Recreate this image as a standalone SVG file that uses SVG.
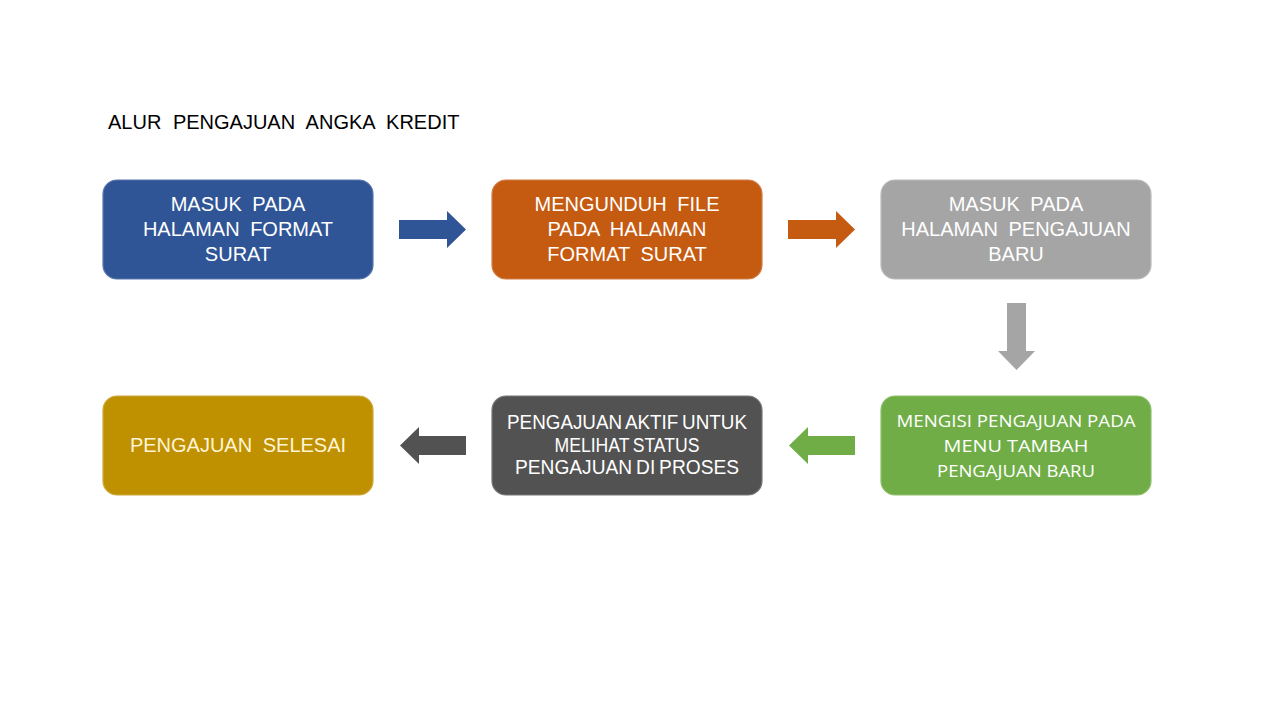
<svg xmlns="http://www.w3.org/2000/svg" width="1280" height="720" viewBox="0 0 1280 720">
<style>
.box{stroke-width:1.2}
.t{font-family:"Liberation Sans",Arial,sans-serif;font-size:20px;fill:#fff;text-anchor:middle;word-spacing:5px}
.tt{font-family:"Liberation Sans",Arial,sans-serif;font-size:20px;fill:#fff;text-anchor:middle;word-spacing:-1.5px}
.c{font-family:"Open Sans","Noto Sans",sans-serif;font-size:17px;fill:#fff;text-anchor:middle}
</style>
<rect width="1280" height="720" fill="#fff"/>
<text x="108" y="129" font-family="Liberation Sans,Arial,sans-serif" font-size="20" fill="#000" word-spacing="6">ALUR PENGAJUAN ANGKA KREDIT</text>
<g id="n1">
<rect class="box" x="103" y="180" width="270" height="99" rx="14" fill="#2F5597" stroke="#5a77ad"/>
<text class="t" x="238" y="211">MASUK PADA</text>
<text class="t" x="238" y="236">HALAMAN FORMAT</text>
<text class="t" x="238" y="261">SURAT</text>
</g>
<g id="n2">
<rect class="box" x="492" y="180" width="270" height="99" rx="14" fill="#C55A11" stroke="#d27d45"/>
<text class="t" x="627" y="211">MENGUNDUH FILE</text>
<text class="t" x="627" y="236">PADA HALAMAN</text>
<text class="t" x="627" y="261">FORMAT SURAT</text>
</g>
<g id="n3">
<rect class="box" x="881" y="180" width="270" height="99" rx="14" fill="#A5A5A5" stroke="#bbbbbb"/>
<text class="t" x="1016" y="211">MASUK PADA</text>
<text class="t" x="1016" y="236">HALAMAN PENGAJUAN</text>
<text class="t" x="1016" y="261">BARU</text>
</g>
<g id="n4">
<rect class="box" x="881" y="396" width="270" height="99" rx="14" fill="#70AD47" stroke="#8fc06d"/>
<text class="c" x="1016" y="427" textLength="239" lengthAdjust="spacingAndGlyphs">MENGISI PENGAJUAN PADA</text>
<text class="c" x="1016" y="452" textLength="145" lengthAdjust="spacingAndGlyphs">MENU TAMBAH</text>
<text class="c" x="1016" y="477" textLength="158" lengthAdjust="spacingAndGlyphs">PENGAJUAN BARU</text>
</g>
<g id="n5">
<rect class="box" x="492" y="396" width="270" height="99" rx="14" fill="#525252" stroke="#777"/>
<text class="tt" x="627" y="429" textLength="240" lengthAdjust="spacingAndGlyphs">PENGAJUAN AKTIF UNTUK</text>
<text class="tt" x="627" y="452" textLength="145" lengthAdjust="spacingAndGlyphs">MELIHAT STATUS</text>
<text class="tt" x="627" y="474" textLength="224" lengthAdjust="spacingAndGlyphs">PENGAJUAN DI PROSES</text>
</g>
<g id="n6">
<rect class="box" x="103" y="396" width="270" height="99" rx="14" fill="#BF9000" stroke="#cfa93f"/>
<text class="t" x="238" y="452" style="fill:#FFF5D6">PENGAJUAN SELESAI</text>
</g>
<g id="connectors">
<polygon points="399,220 447,220 447,211 466,229.5 447,248 447,239 399,239" fill="#2F5597"/>
<polygon points="788,220 836,220 836,211 855,229.5 836,248 836,239 788,239" fill="#C55A11"/>
<polygon points="1007,303 1026,303 1026,351 1035,351 1016.5,370 998,351 1007,351" fill="#A5A5A5"/>
<polygon points="855,436 808,436 808,427 789,445.5 808,464 808,455 855,455" fill="#70AD47"/>
<polygon points="466,436 419,436 419,427 400,445.5 419,464 419,455 466,455" fill="#525252"/>
</g>
</svg>
